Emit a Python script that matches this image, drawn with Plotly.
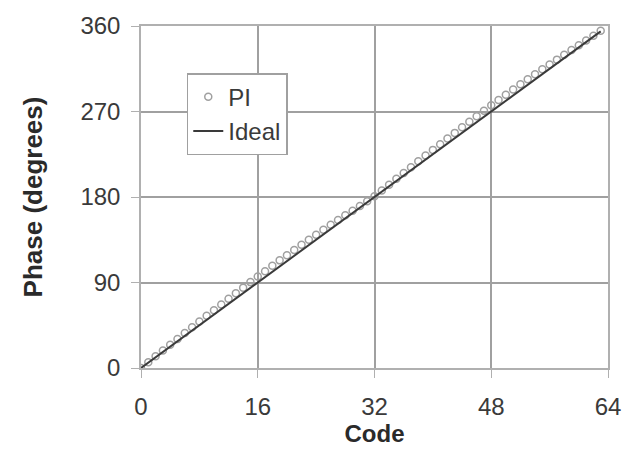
import plotly.graph_objects as go

codes = list(range(64))
pi_phase = [0, 6.1, 12.3, 18.4, 24.5, 30.6, 36.8, 42.9, 49.0, 54.9, 60.9, 66.9, 72.8, 78.6, 84.6, 90.4,
            96.2, 101.9, 107.7, 113.3, 118.8, 124.3, 129.8, 135.1, 140.3, 145.5, 150.7, 155.7, 160.7, 165.6, 170.6, 175.6,
            180.8, 186.8, 193.0, 199.2, 205.3, 211.4, 217.6, 223.6, 229.6, 235.6, 241.6, 247.5, 253.4, 259.2, 265.1, 270.8,
            276.5, 282.1, 287.7, 293.2, 298.6, 303.9, 309.2, 314.4, 319.5, 324.6, 329.7, 334.7, 339.7, 344.7, 349.8, 354.9]
ideal_codes = [0, 63]
ideal_phase = [0, 354.4]
x_ticks = [0, 16, 32, 48, 64]
y_ticks = [0, 90, 180, 270, 360]

FONT = "Liberation Sans, Arial"
fig = go.Figure()
fig.add_trace(go.Scatter(x=codes, y=pi_phase, mode="markers", name="PI",
                         marker=dict(symbol="circle-open", size=7, color="#a0a0a0", line=dict(width=1.5))))
fig.add_trace(go.Scatter(x=ideal_codes, y=ideal_phase, mode="lines", name="Ideal",
                         line=dict(color="#3a3a3a", width=2)))

axis_common = dict(showgrid=True, gridcolor="#a0a0a0", gridwidth=1.5, showline=True, linecolor="#b0b0b0",
                   linewidth=1.5, mirror=True, zeroline=False, ticks="outside", ticklen=8, tickcolor="#b0b0b0",
                   tickfont=dict(size=24, color="#3a3a3a", family=FONT))
fig.update_xaxes(range=[0, 64], tickvals=x_ticks, ticklabelstandoff=8,
                 title=dict(text="<b>Code</b>", font=dict(size=24, color="#2a2a2a", family=FONT), standoff=2),
                 **axis_common)
fig.update_yaxes(range=[0, 360], tickvals=y_ticks, ticklabelstandoff=6,
                 title=dict(text="<b>Phase (degrees)</b>", font=dict(size=26, color="#2a2a2a", family=FONT), standoff=30),
                 **axis_common)

fig.update_layout(width=633, height=461, margin=dict(l=141, r=23, t=21, b=93),
                  plot_bgcolor="white", paper_bgcolor="white",
                  font=dict(family=FONT, size=24, color="#3a3a3a"),
                  legend=dict(x=0.098, y=0.862, xanchor="left", yanchor="top", bgcolor="white",
                              bordercolor="#a0a0a0", borderwidth=1.5, font=dict(size=24),
                              itemwidth=30, tracegroupgap=0))
fig.write_html("out.html")
